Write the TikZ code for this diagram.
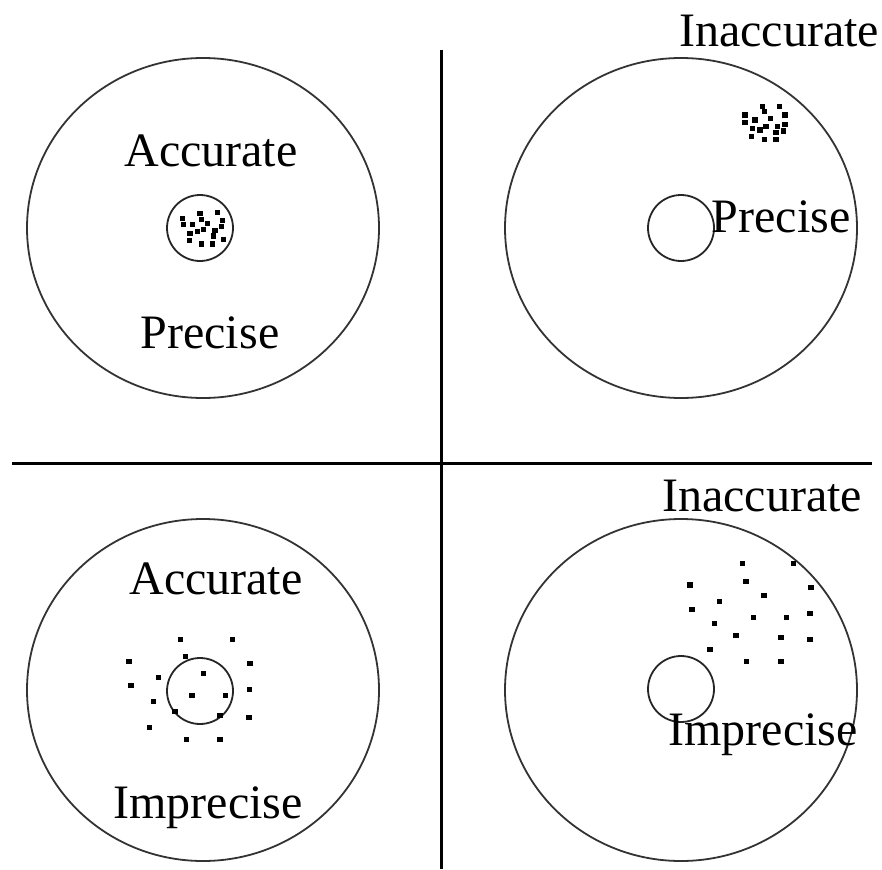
\documentclass[tikz,border=0pt]{standalone}
\usepackage{fontspec}
\setmainfont{Liberation Serif}
\begin{document}
\begin{tikzpicture}[x=1pt,y=-1pt,
  big/.style={draw=black!80,line width=1.8pt},
  small/.style={draw=black!85,line width=1.8pt},
  axis/.style={draw=black,line width=3pt},
  lbl/.style={anchor=base,inner sep=0pt,font=\fontsize{48}{50}\selectfont},
  dot/.style={fill=black}]
\useasboundingbox (0,0) rectangle (882,869);
% axes
\coordinate (vt) at (441,50);
\coordinate (vb) at (441,869);
\coordinate (hl) at (12,463);
\coordinate (hr) at (872,463);
\draw[axis] (vt) -- (vb);
\draw[axis] (hl) -- (hr);
% big targets
\draw[big] (203,228) ellipse [x radius=176, y radius=170];
\draw[big] (681,228) ellipse [x radius=176, y radius=170];
\draw[big] (203,690) ellipse [x radius=176, y radius=171];
\draw[big] (681,690) ellipse [x radius=176, y radius=171];
% small bulls-eyes
\draw[small] (200,228) circle [radius=33];
\draw[small] (681,228) circle [radius=33];
\draw[small] (200,691) circle [radius=33];
\draw[small] (681,689) circle [radius=33];
% labels
\node[lbl] (tla) at (211,166) {Accurate};
\node[lbl] (tlp) at (210,348) {Precise};
\node[lbl] (tri) at (779,47) {Inaccurate};
\node[lbl] (trp) at (781,232) {Precise};
\node[lbl] (bri) at (762,511) {Inaccurate};
\node[lbl] (bla) at (216,594) {Accurate};
\node[lbl] (blim) at (208,818) {Imprecise};
\node[lbl] (brim) at (763,745) {Imprecise};
% dots: top-left
\foreach \x/\y in {182.7/218.3,183.3/224.3,192.3/224.3,200/213.3,201.7/219.3,207.7/223.3,217.3/212.7,222.7/220.7,221.7/226.7,190/233.3,197.3/231.7,203.3/229.3,215/230.7,213.3/236,223.3/239.3,189.3/240.7,201.7/244,212.7/244}
  \fill[dot] (\x-2.75,\y-2.75) rectangle ++(5.5,5.5);
% dots: top-right
\foreach \x/\y in {745/115,745/122.3,755/120,762.3/106.7,764.3/111.7,770.7/118.3,779.3/106.7,785/115,785/124.3,752.7/128.3,760/130,766/126.7,777.3/126.7,776/132.3,783.3/131,751.7/136.7,764.3/139.3,776/139.3}
  \fill[dot] (\x-2.75,\y-2.75) rectangle ++(5.5,5.5);
% dots: bottom-left
\foreach \x/\y in {180.7/639.3,232.3/639.3,129/661.7,185.3/656.7,250/663.3,158.3/677.3,203.3/673.3,131/685.3,249.3/689.3,192/695.3,225.7/695.3,153.3/701.3,175/711.3,220/715.3,249/717.3,149.3/727.3,186.7/739.3,220/739.3}
  \fill[dot] (\x-2.75,\y-2.75) rectangle ++(5.5,5.5);
% dots: bottom-right
\foreach \x/\y in {742.3/563.3,793.3/563.3,690/585,746/581.7,811/587.3,764/595.3,719.3/601.3,692/609.3,753.3/617.3,786.7/617.3,810/613.3,714.3/623.3,736/635.3,781/637.3,810/639.3,710/649.3,746.7/661.3,781/661.3}
  \fill[dot] (\x-2.75,\y-2.75) rectangle ++(5.5,5.5);
\end{tikzpicture}
\end{document}
